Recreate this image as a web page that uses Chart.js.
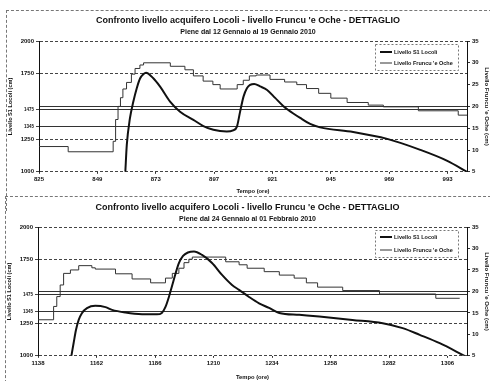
<!DOCTYPE html>
<html>
<head>
<meta charset="utf-8">
<script src="https://cdn.jsdelivr.net/npm/chart.js@4.4.1/dist/chart.umd.min.js"></script>
<style>
  body { margin: 0; background: #fff; width: 490px; height: 381px; position: relative; overflow: hidden; }
  .frame { position: absolute; border: 1px dashed #777; border-right: none; }
  .wrap { position: absolute; left: 0; width: 490px; }
  canvas { display: block; }
</style>
</head>
<body>
<div class="frame" style="left:6px;top:10px;width:490px;height:200px;border-bottom:none"></div>
<div class="frame" style="left:5px;top:196px;width:490px;height:200px"></div>
<div class="wrap" style="top:0;height:196px"><canvas id="chartTop" width="490" height="196"></canvas></div>
<div class="wrap" style="top:196px;height:185px"><canvas id="chartBottom" width="490" height="185"></canvas></div>

<script>
// ---- shared axis values
const leftTicks = [1000, 1250, 1345, 1475, 1750, 2000];
const refLevels = [1345, 1475];          // solid reference lines on the left scale
const rightRef = [20];                   // solid reference line on the right scale

// ---- top chart: piene dal 12 al 19 gennaio 2010
const xTicksTop = [825, 849, 873, 897, 921, 945, 969, 993];
const locoliHoursTop = [860.5, 861.1, 862.4, 863.8, 865.2, 866.6, 868, 869, 872, 874.8, 878.9, 883, 888.5, 892.6, 896.7,
  902.2, 904.8, 906.4, 907.7, 909.1, 910.5, 911.8, 913.5, 915.9, 918.8, 922.1, 925.4, 927.5, 932.4, 936.5, 940.6,
  954.2, 968.2, 981.8, 992.9, 1001];
const locoliTop = [1000, 1206, 1410, 1537, 1639, 1715, 1748, 1758, 1715, 1651, 1537, 1460, 1397, 1350, 1321,
  1308, 1317, 1346, 1460, 1575, 1639, 1664, 1672, 1653, 1626, 1565, 1504, 1473, 1412, 1366, 1340,
  1305, 1252, 1168, 1084, 1000];
const fruncuHoursTop = [825, 837, 855.5, 856.5, 857.5, 858.5, 859.5, 861, 863, 864.5, 866.5, 868, 879, 885, 888.5,
  892.5, 896.5, 899.5, 906.5, 909, 911.5, 914.3, 920, 926, 931, 935, 940, 945, 951.7, 960.4, 966.6, 981, 997.4, 1001];
const fruncuTop = [10.8, 9.6, 12, 17, 20, 22, 24, 25.5, 27.4, 28.7, 29.5, 30, 29.2, 28.4, 27,
  25.8, 25, 24, 25, 26, 27, 27.2, 26.2, 25.6, 25, 24.1, 23, 21.9, 20.9, 20.3, 19.9, 19, 18, 18];

// ---- bottom chart: piene dal 24 gennaio al 01 febbraio 2010
const xTicksBottom = [1138, 1162, 1186, 1210, 1234, 1258, 1282, 1306];
const locoliHoursBottom = [1151.7, 1152.6, 1153.6, 1154.7, 1156, 1158.1, 1161.5, 1165.7, 1168.4, 1173.9, 1180.7,
  1186.8, 1188.8, 1190.3, 1191.7, 1193.1, 1194.5, 1195.8, 1197.5, 1199.5, 1202, 1205.3, 1209.4, 1213.5, 1217.6,
  1220.5, 1224.6, 1228.7, 1232.8, 1237, 1245.2, 1253.4, 1267, 1279.4, 1287.6, 1294.6, 1302.8, 1313];
const locoliBottom = [1000, 1098, 1202, 1279, 1331, 1370, 1388, 1378, 1357, 1336, 1323,
  1322, 1333, 1380, 1457, 1550, 1643, 1719, 1775, 1802, 1810, 1783, 1721, 1628, 1550,
  1512, 1457, 1408, 1372, 1333, 1318, 1305, 1279, 1253, 1215, 1163, 1098, 1000];
const fruncuHoursBottom = [1138, 1144.4, 1145.7, 1147.1, 1148.5, 1151.3, 1154.7, 1160.1, 1161.5, 1169.8, 1176.6,
  1184.2, 1190.3, 1193.1, 1195.8, 1197.9, 1199.9, 1201.3, 1215, 1220.5, 1223.8, 1230.8, 1237, 1243.1, 1248.1,
  1252.7, 1263, 1278.1, 1301.2, 1311];
const fruncuBottom = [13.4, 16.5, 18.8, 21.5, 24.2, 25, 26, 25.5, 25.2, 24.1, 22.9,
  22, 23.1, 24.2, 25.4, 26.7, 27.5, 28, 26.9, 26.2, 25.4, 24.6, 23.8, 23.1, 22,
  21, 20.2, 19.4, 18.4, 18.4];

const FONT = '"Liberation Sans", Arial, sans-serif';
Chart.defaults.font.family = FONT;
Chart.defaults.color = '#111';

const toPoints = (xs, ys) => xs.map((x, i) => ({ x: x, y: ys[i] }));
const tickIn = (ctx, list) => !!(ctx.tick && list.includes(ctx.tick.value));
const plain = v => String(v);   // no thousands separator, like the original

// legend box drawn inside the plot, like the spreadsheet original
const boxLegend = {
  id: 'boxLegend',
  afterDraw(chart, args, opts) {
    const ctx = chart.ctx;
    ctx.save();
    ctx.fillStyle = '#fff';
    ctx.fillRect(opts.x, opts.y, opts.w, opts.h);
    ctx.strokeStyle = '#777';
    ctx.lineWidth = 1;
    ctx.setLineDash([2, 2]);
    ctx.strokeRect(opts.x + 0.5, opts.y + 0.5, opts.w, opts.h);
    ctx.setLineDash([]);
    ctx.font = 'bold 5.5px ' + FONT;
    ctx.textBaseline = 'middle';
    chart.data.datasets.forEach((ds, i) => {
      const yy = opts.rows[i];
      ctx.strokeStyle = ds.borderColor;
      ctx.lineWidth = ds.borderWidth;
      ctx.beginPath();
      ctx.moveTo(opts.x + 5, yy);
      ctx.lineTo(opts.x + 17, yy);
      ctx.stroke();
      ctx.fillStyle = '#111';
      ctx.fillText(ds.label, opts.x + 19, yy);
    });
    ctx.restore();
  }
};

function buildChart(id, c) {
  const ctx = document.getElementById(id).getContext('2d');
  return new Chart(ctx, {
    type: 'line',
    data: {
      datasets: [
        {
          label: 'Livello S1 Locoli',
          data: toPoints(c.locoliHours, c.locoli),
          yAxisID: 'y',
          borderColor: '#111',
          borderWidth: 2,
          pointRadius: 0,
          cubicInterpolationMode: 'monotone'
        },
        {
          label: "Livello Fruncu 'e Oche",
          data: toPoints(c.fruncuHours, c.fruncu),
          yAxisID: 'y1',
          borderColor: '#333',
          borderWidth: 1,
          pointRadius: 0,
          stepped: 'before'
        }
      ]
    },
    options: {
      responsive: false,
      animation: false,
      layout: { padding: c.padding },
      plugins: {
        legend: { display: false },
        tooltip: { enabled: false },
        title: {
          display: true,
          text: "Confronto livello acquifero Locoli - livello Fruncu 'e Oche - DETTAGLIO",
          font: { size: 9, weight: 'bold' },
          padding: c.titlePad
        },
        subtitle: {
          display: true,
          text: c.subtitle,
          font: { size: 7, weight: 'bold' },
          color: '#111',
          padding: c.subPad
        },
        boxLegend: c.legend
      },
      scales: {
        x: {
          type: 'linear',
          min: c.xMin,
          max: c.xMax,
          afterBuildTicks: s => { s.ticks = c.xTicks.map(v => ({ value: v })); },
          grid: { drawOnChartArea: false, tickLength: 2, color: '#333' },
          border: { display: false },
          ticks: { font: { size: 6, weight: 'bold' }, padding: 2, maxRotation: 0, callback: plain },
          title: { display: true, text: 'Tempo (ore)', font: { size: 5.8, weight: 'bold' }, padding: c.xTitlePad }
        },
        y: {
          position: 'left',
          min: 1000,
          max: 2000,
          afterBuildTicks: s => { s.ticks = leftTicks.map(v => ({ value: v })); },
          afterFit: s => { s.width = 33; },
          grid: {
            color: ctx => tickIn(ctx, refLevels) ? 'rgba(0,0,0,0)' : '#444',
            tickColor: '#444',
            tickLength: 3
          },
          border: { display: true, color: '#111', dash: [3, 2] },
          ticks: {
            padding: 2,
            callback: plain,
            font: ctx => ({ size: tickIn(ctx, refLevels) ? 4.5 : 6, weight: 'bold' })
          },
          title: { display: true, text: 'Livello S1 Locoli (cm)', font: { size: 5.6, weight: 'bold' }, padding: 1 }
        },
        yRef: {
          position: 'left',
          min: 1000,
          max: 2000,
          afterBuildTicks: s => { s.ticks = refLevels.map(v => ({ value: v })); },
          afterFit: s => { s.width = 0; },
          grid: { color: '#333', drawTicks: false },
          border: { display: false },
          ticks: { display: false }
        },
        y1: {
          position: 'right',
          min: 5,
          max: 35,
          afterFit: s => { s.width = 23; },
          grid: {
            color: ctx => tickIn(ctx, rightRef) ? '#333' : 'rgba(0,0,0,0)',
            tickColor: '#333',
            tickLength: 3
          },
          border: { display: true, color: '#111' },
          ticks: { stepSize: 5, padding: 2, callback: plain, font: { size: 6, weight: 'bold' } },
          title: { display: true, text: "Livello Fruncu 'e Oche (cm)", font: { size: 6, weight: 'bold' }, padding: 0 }
        }
      }
    },
    plugins: [boxLegend]
  });
}

buildChart('chartTop', {
  subtitle: 'Piene dal 12 Gennaio al 19 Gennaio 2010',
  xTicks: xTicksTop, xMin: 825, xMax: 1001,
  locoliHours: locoliHoursTop, locoli: locoliTop,
  fruncuHours: fruncuHoursTop, fruncu: fruncuTop,
  padding: { left: 6, right: 0, top: 10, bottom: 1 },
  titlePad: { top: 5, bottom: 1 },
  subPad: { top: 1, bottom: 4.8 },
  xTitlePad: { top: 3, bottom: 0 },
  legend: { x: 375, y: 44, w: 83, h: 26, rows: [52, 63] }
});

buildChart('chartBottom', {
  subtitle: 'Piene dal 24 Gennaio al 01 Febbraio 2010',
  xTicks: xTicksBottom, xMin: 1138, xMax: 1314,
  locoliHours: locoliHoursBottom, locoli: locoliBottom,
  fruncuHours: fruncuHoursBottom, fruncu: fruncuBottom,
  padding: { left: 5, right: 0, top: 1, bottom: 0 },
  titlePad: { top: 5.6, bottom: 1 },
  subPad: { top: 0, bottom: 4.2 },
  xTitlePad: { top: 5, bottom: 0 },
  legend: { x: 375, y: 34, w: 83, h: 27, rows: [41, 54] }
});
</script>
</body>
</html>
